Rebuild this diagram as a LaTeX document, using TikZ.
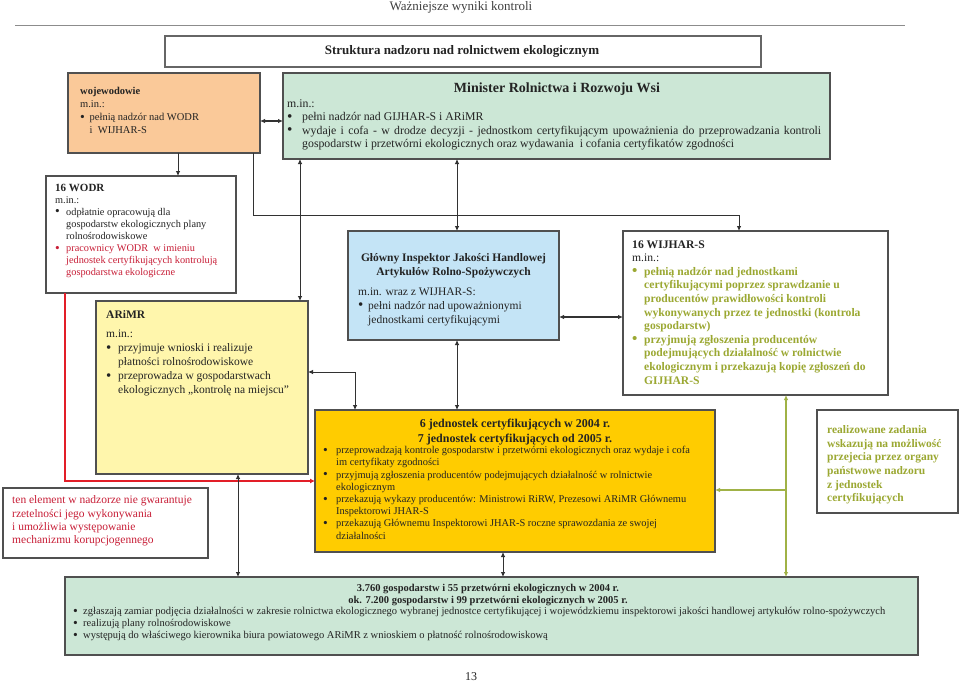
\documentclass[tikz,border=0pt]{standalone}
\usepackage{fontspec}
\usepackage{graphicx}
\setmainfont{Liberation Serif}
\usetikzlibrary{arrows.meta}
\definecolor{bordc}{RGB}{80,80,80}
\definecolor{txtc}{RGB}{35,35,35}
\definecolor{conc}{RGB}{50,50,50}
\definecolor{redc}{RGB}{200,30,55}
\definecolor{redl}{RGB}{226,30,40}
\definecolor{olivec}{RGB}{155,168,50}
\definecolor{oliveline}{RGB}{160,178,70}
\definecolor{orangec}{RGB}{250,201,153}
\definecolor{greenc}{RGB}{204,231,214}
\definecolor{bluec}{RGB}{196,228,246}
\definecolor{yellowc}{RGB}{255,246,172}
\definecolor{goldc}{RGB}{255,204,0}
\newcommand\fs[2]{\fontsize{#1}{#2}\selectfont}
\newcommand\LL[1]{\hbox{#1}}
\newcommand\bu[1]{\makebox[#1pt][l]{\raisebox{-0.06em}{\scalebox{1.3}{\textbullet}}}}
\newcommand\ind[1]{\hspace*{#1pt}}
\tikzset{
  box/.style={draw=bordc, line width=1.2pt, anchor=north west, inner sep=0pt, outer sep=0pt},
  tl/.style={inner sep=0pt, anchor=base west, text=txtc},
  tc/.style={inner sep=0pt, anchor=base, text=txtc},
  con/.style={draw=conc, line width=0.8pt},
  dbl/.style={con, {Latex[length=5pt,width=4.5pt]}-{Latex[length=5pt,width=4.5pt]}},
  sgl/.style={con, -{Latex[length=5pt,width=4.5pt]}},
  gdbl/.style={draw=oliveline, line width=1.2pt, {Latex[length=5pt,width=4.5pt]}-{Latex[length=5pt,width=4.5pt]}},
  garr/.style={draw=oliveline, line width=1.2pt, -{Latex[length=5pt,width=4.5pt]}},
  redarr/.style={draw=redl, line width=2.4pt, -{Latex[length=5pt,width=5pt]}},
}
\begin{document}
\begin{tikzpicture}[x=1pt,y=-1pt]
\useasboundingbox (0,0) rectangle (960,682);
\fill[white] (0,0) rectangle (960,682);

% header
\node[tc, text=black!75, font=\fs{13}{15}] (hdr) at (461,10.5) {Ważniejsze wyniki kontroli};
\coordinate (HL) at (15,26);
\coordinate (HR) at (905,26);
\draw[black!45, line width=1pt] (HL) -- (HR);

% title box
\node[box, draw=black!60, fill=white, minimum width=596pt, minimum height=31pt] (title) at (165,36) {};
\node[tc, font=\bfseries\fs{13}{15}] (titlet) at (462,55) {Struktura nadzoru nad rolnictwem ekologicznym};

% boxes
\node[box, fill=orangec, minimum width=192pt, minimum height=80pt] (woj) at (68,73) {};
\node[box, fill=greenc, minimum width=547pt, minimum height=86pt] (minister) at (283,73) {};
\node[box, fill=white, minimum width=190pt, minimum height=117pt] (wodr) at (46,176) {};
\node[box, fill=yellowc, minimum width=212pt, minimum height=173pt] (arimr) at (96,301) {};
\node[box, fill=bluec, minimum width=211pt, minimum height=109pt] (gijhar) at (348,231) {};
\node[box, fill=white, minimum width=265pt, minimum height=164pt] (wijhar) at (623,231) {};
\node[box, fill=goldc, minimum width=400pt, minimum height=142pt] (cert) at (315,410) {};
\node[box, fill=white, minimum width=141pt, minimum height=103pt] (rbox) at (817,410) {};
\node[box, fill=white, minimum width=205pt, minimum height=70pt] (redbox) at (3,488) {};
\node[box, fill=greenc, minimum width=853pt, minimum height=78pt] (bottom) at (65,577) {};

% wojewodowie text
\node[tl, font=\fs{10.5}{13}] (wojt) at (80,94.5) {\vtop{%
\LL{\textbf{wojewodowie}}
\LL{m.in.:}
\LL{\bu{9.5}pełnią nadzór nad WODR}
\LL{\ind{9.5}i\ \ WIJHAR-S}}};

% minister text
\node[tc, font=\bfseries\fs{14}{16}] (mint) at (557,93) {Minister Rolnictwa i Rozwoju Wsi};
\node[tl, font=\fs{11.8}{13.5}] (minb) at (287,107) {\vtop{%
\LL{m.in.:}
\LL{\bu{15}pełni nadzór nad GIJHAR-S i ARiMR}
\LL{\bu{15}\makebox[519pt][s]{wydaje i cofa - w drodze decyzji - jednostkom certyfikującym upoważnienia do przeprowadzania kontroli}}
\LL{\ind{15}gospodarstw i przetwórni ekologicznych oraz wydawania\ \ i cofania certyfikatów zgodności}}};

% WODR text
\node[tl, font=\fs{10.3}{12.1}] (wodrt) at (55,191) {\vtop{%
\LL{\fs{11}{12.1}\textbf{16 WODR}}
\LL{m.in.:}
\LL{\bu{11}odpłatnie opracowują dla}
\LL{\ind{11}gospodarstw ekologicznych plany}
\LL{\ind{11}rolnośrodowiskowe}
\LL{\color{redc}\bu{11}pracownicy WODR\ \ w imieniu}
\LL{\color{redc}\ind{11}jednostek certyfikujących kontrolują}
\LL{\color{redc}\ind{11}gospodarstwa ekologiczne}}};

% ARiMR text
\node[tl, font=\bfseries\fs{11.5}{14}] (arimrt) at (106,318) {ARiMR};
\node[tl, font=\fs{11.5}{14}] (arimrb) at (106,337.6) {\vtop{%
\LL{m.in.:}
\LL{\bu{12}przyjmuje wnioski i realizuje}
\LL{\ind{12}płatności rolnośrodowiskowe}
\LL{\bu{12}przeprowadza w gospodarstwach}
\LL{\ind{12}ekologicznych „kontrolę na miejscu”}}};

% GIJHAR text
\node[tc, font=\bfseries\fs{11.5}{14}] (gij1) at (453.5,261) {Główny Inspektor Jakości Handlowej};
\node[tc, font=\bfseries\fs{11.5}{14}] (gij2) at (453.5,275) {Artykułów Rolno-Spożywczych};
\node[tl, font=\fs{11.5}{14}] (gijb) at (358,295) {\vtop{%
\LL{m.in. wraz z WIJHAR-S:}
\LL{\bu{10}pełni nadzór nad upoważnionymi}
\LL{\ind{10}jednostkami certyfikującymi}}};

% WIJHAR-S text
\node[tl, font=\fs{11.6}{13.6}] (wijt) at (632,248) {\vtop{%
\LL{\textbf{16 WIJHAR-S}}
\LL{m.in.:}
\LL{\color{olivec}\bfseries\bu{12}pełnią nadzór nad jednostkami}
\LL{\color{olivec}\bfseries\ind{12}certyfikującymi poprzez sprawdzanie u}
\LL{\color{olivec}\bfseries\ind{12}producentów prawidłowości kontroli}
\LL{\color{olivec}\bfseries\ind{12}wykonywanych przez te jednostki (kontrola}
\LL{\color{olivec}\bfseries\ind{12}gospodarstw)}
\LL{\color{olivec}\bfseries\bu{12}przyjmują zgłoszenia producentów}
\LL{\color{olivec}\bfseries\ind{12}podejmujących działalność w rolnictwie}
\LL{\color{olivec}\bfseries\ind{12}ekologicznym i przekazują kopię zgłoszeń do}
\LL{\color{olivec}\bfseries\ind{12}GIJHAR-S}}};

% cert text
\node[tc, font=\bfseries\fs{12}{14}] (cert1) at (515,427) {6 jednostek certyfikujących w 2004 r.};
\node[tc, font=\bfseries\fs{12}{14}] (cert2) at (515,442) {7 jednostek certyfikujących od 2005 r.};
\node[tl, font=\fs{10.4}{12.2}] (certb) at (323,453.6) {\vtop{%
\LL{\bu{13}przeprowadzają kontrole gospodarstw i przetwórni ekologicznych oraz wydaje i cofa}
\LL{\ind{13}im certyfikaty zgodności}
\LL{\bu{13}przyjmują zgłoszenia producentów podejmujących działalność w rolnictwie}
\LL{\ind{13}ekologicznym}
\LL{\bu{13}przekazują wykazy producentów: Ministrowi RiRW, Prezesowi ARiMR Głównemu}
\LL{\ind{13}Inspektorowi JHAR-S}
\LL{\bu{13}przekazują Głównemu Inspektorowi JHAR-S roczne sprawozdania ze swojej}
\LL{\ind{13}działalności}}};

% right box text
\node[tl, text=olivec, font=\bfseries\fs{11.5}{13.6}] (rboxt) at (827,433.6) {\vtop{%
\LL{realizowane zadania}
\LL{wskazują na możliwość}
\LL{przejecia przez organy}
\LL{państwowe nadzoru}
\LL{z jednostek}
\LL{certyfikujących}}};

% red box text
\node[tl, text=redc, font=\fs{11.5}{13.4}] (redt) at (12,503.6) {\vtop{%
\LL{ten element w nadzorze nie gwarantuje}
\LL{rzetelności jego wykonywania}
\LL{i umożliwia występowanie}
\LL{mechanizmu korupcjogennego}}};

% bottom box text
\node[tc, font=\bfseries\fs{10.5}{12}] (bot1) at (488,591.5) {3.760 gospodarstw i 55 przetwórni ekologicznych w 2004 r.};
\node[tc, font=\bfseries\fs{10.5}{12}] (bot2) at (488,603) {ok. 7.200 gospodarstw i 99 przetwórni ekologicznych w 2005 r.};
\node[tl, font=\fs{10.5}{12}] (botb) at (73,614.5) {\vtop{%
\LL{\bu{10}zgłaszają zamiar podjęcia działalności w zakresie rolnictwa ekologicznego wybranej jednostce certyfikującej i wojewódzkiemu inspektorowi jakości handlowej artykułów rolno-spożywczych}
\LL{\bu{10}realizują plany rolnośrodowiskowe}
\LL{\bu{10}występują do właściwego kierownika biura powiatowego ARiMR z wnioskiem o płatność rolnośrodowiskową}}};

% page number
\node[tc, font=\fs{12}{14}] (pg) at (471,680) {13};

% connector coordinates
\coordinate (X65) at (65,0);
\coordinate (X178) at (178,0);
\coordinate (X238) at (238,0);
\coordinate (X253) at (253,0);
\coordinate (X300) at (300,0);
\coordinate (X355) at (355,0);
\coordinate (X457) at (457,0);
\coordinate (X503) at (503,0);
\coordinate (X739) at (739,0);
\coordinate (X786) at (786,0);
\coordinate (Y121) at (0,121);
\coordinate (Y215) at (0,215);
\coordinate (Y317) at (0,317);
\coordinate (Y372) at (0,372);
\coordinate (Y481) at (0,481);
\coordinate (Y490) at (0,490);

% connectors
\draw[dbl, line width=1.2pt] (woj.east |- Y121) -- (minister.west |- Y121);
\draw[sgl] (woj.south -| X178) -- (wodr.north -| X178);
\draw[sgl] (woj.south -| X253) |- (X739 |- Y215) -- (wijhar.north -| X739);
\draw[dbl] (minister.south -| X300) -- (arimr.north -| X300);
\draw[dbl] (minister.south -| X457) -- (gijhar.north -| X457);
\draw[dbl, line width=1.3pt] (gijhar.east |- Y317) -- (wijhar.west |- Y317);
\draw[dbl] (arimr.east |- Y372) -| (cert.north -| X355);
\draw[dbl] (gijhar.south -| X457) -- (cert.north -| X457);
\draw[gdbl] (wijhar.south -| X786) -- (bottom.north -| X786);
\draw[garr] (X786 |- Y490) -- (cert.east |- Y490);
\draw[redarr] (wodr.south -| X65) |- (cert.west |- Y481);
\draw[dbl] (arimr.south -| X238) -- (bottom.north -| X238);
\draw[dbl] (cert.south -| X503) -- (bottom.north -| X503);
\end{tikzpicture}
\end{document}
